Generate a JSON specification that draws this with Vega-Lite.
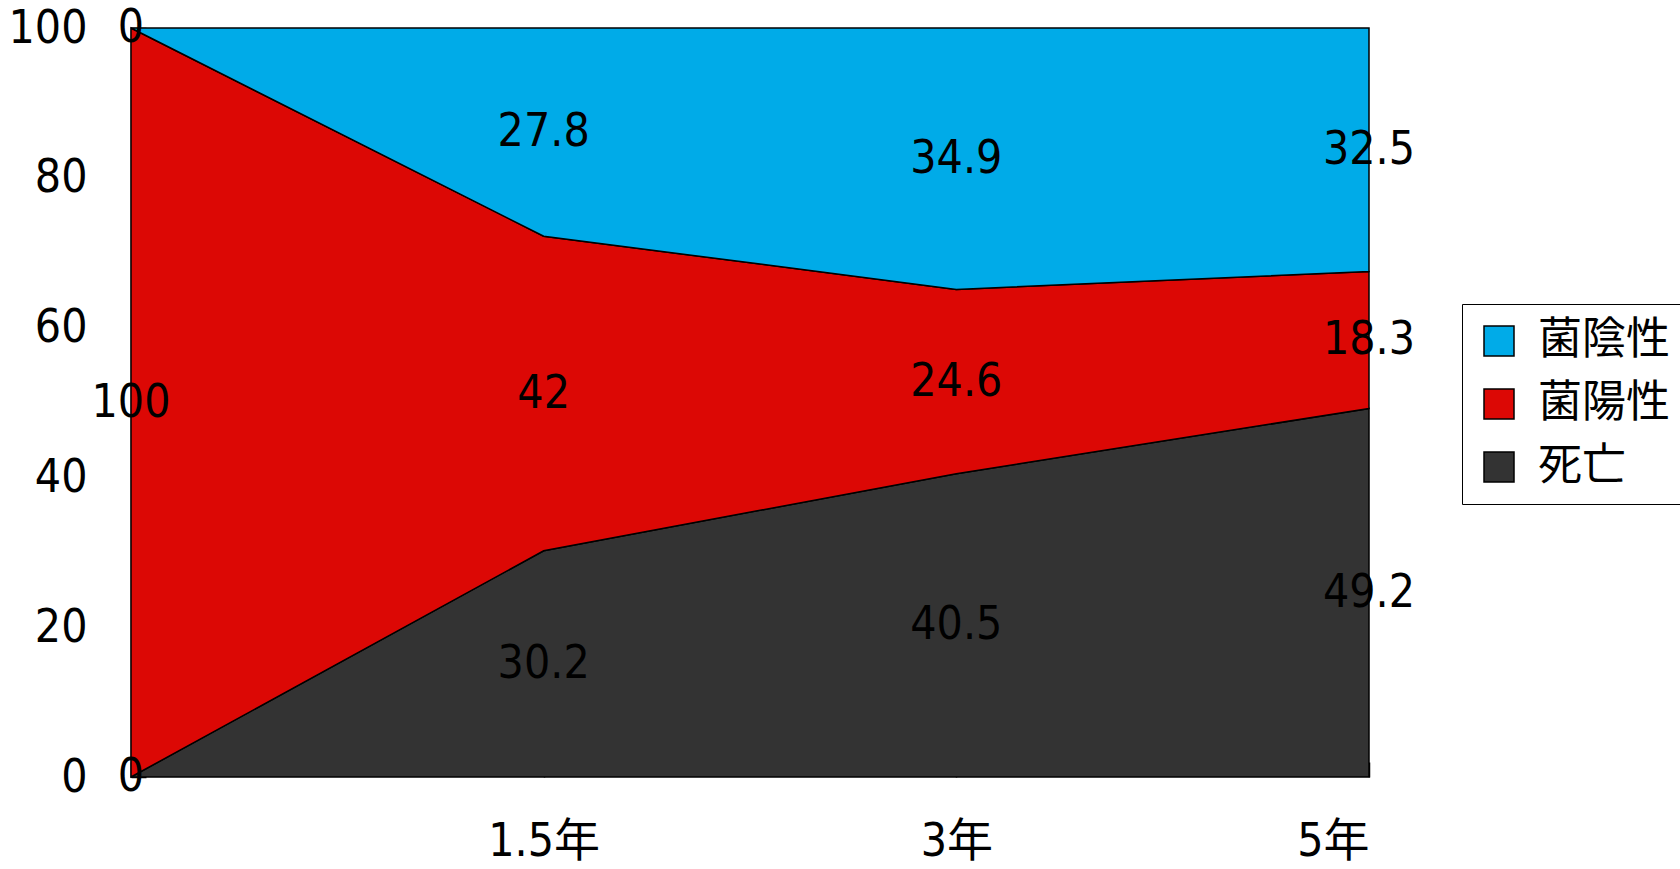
{
  "$schema": "https://vega.github.io/schema/vega-lite/v6.json",
  "width": 1238,
  "height": 749,
  "autosize": {"type": "none"},
  "padding": {"left": 131, "top": 28, "right": 311, "bottom": 92},
  "background": "white",
  "view": {"stroke": null},
  "config": {"font": "DejaVu Sans Condensed, Noto Sans CJK JP"},
  "data": {
    "values": [
      {"x": " ", "status": "死亡", "value": 0, "ord": 1},
      {"x": " ", "status": "菌陽性", "value": 100, "ord": 2},
      {"x": " ", "status": "菌陰性", "value": 0, "ord": 3},
      {"x": "1.5年", "status": "死亡", "value": 30.2, "ord": 1},
      {"x": "1.5年", "status": "菌陽性", "value": 42, "ord": 2},
      {"x": "1.5年", "status": "菌陰性", "value": 27.8, "ord": 3},
      {"x": "3年", "status": "死亡", "value": 40.5, "ord": 1},
      {"x": "3年", "status": "菌陽性", "value": 24.6, "ord": 2},
      {"x": "3年", "status": "菌陰性", "value": 34.9, "ord": 3},
      {"x": "5年", "status": "死亡", "value": 49.2, "ord": 1},
      {"x": "5年", "status": "菌陽性", "value": 18.3, "ord": 2},
      {"x": "5年", "status": "菌陰性", "value": 32.5, "ord": 3}
    ]
  },
  "layer": [
    {
      "mark": {"type": "area", "stroke": "black", "strokeWidth": 1.5, "opacity": 1},
      "encoding": {
        "x": {
          "field": "x", "type": "ordinal", "sort": null,
          "scale": {"type": "point", "padding": 0},
          "axis": {
            "title": null, "domain": false, "grid": false,
            "tickSize": -15, "tickColor": "black", "tickWidth": 1.5,
            "labelAngle": 0, "labelFontSize": 46, "labelColor": "black",
            "labelPadding": 57,
            "labelAlign": {"expr": "datum.value == '5年' ? 'right' : 'center'"},
            "labelBaseline": "top"
          }
        },
        "y": {
          "field": "value", "type": "quantitative", "stack": "zero",
          "scale": {"domain": [0, 100], "nice": false},
          "axis": {
            "title": null, "values": [0, 20, 40, 60, 80, 100], "grid": false,
            "domain": true, "domainColor": "black", "domainWidth": 1.5,
            "tickSize": -15, "tickColor": "black", "tickWidth": 1.5,
            "labelFontSize": 46, "labelColor": "black", "labelPadding": 59,
            "labelBaseline": "middle"
          }
        },
        "order": {"field": "ord"},
        "color": {
          "field": "status", "type": "nominal",
          "scale": {"domain": ["菌陰性", "菌陽性", "死亡"], "range": ["#00ABE8", "#DC0805", "#333333"]},
          "legend": {
            "title": null, "orient": "none", "legendX": 1331, "legendY": 276,
            "symbolType": "square", "symbolSize": 900, "symbolStrokeColor": "black",
            "symbolStrokeWidth": 1.5, "symbolOpacity": 1,
            "labelFontSize": 44, "labelColor": "black", "labelOffset": 17,
            "rowPadding": 19, "padding": 15, "strokeColor": "black",
            "labelLimit": 300
          }
        }
      }
    },
    {
      "transform": [
        {"stack": "value", "groupby": ["x"], "sort": [{"field": "ord"}], "as": ["y0", "y1"]},
        {"calculate": "(datum.y0 + datum.y1) / 2", "as": "mid"}
      ],
      "mark": {"type": "text", "fontSize": 46, "color": "black", "align": "center", "baseline": "middle"},
      "encoding": {
        "x": {"field": "x", "type": "ordinal", "sort": null},
        "y": {"field": "mid", "type": "quantitative"},
        "text": {"field": "value", "type": "quantitative"}
      }
    }
  ]
}
